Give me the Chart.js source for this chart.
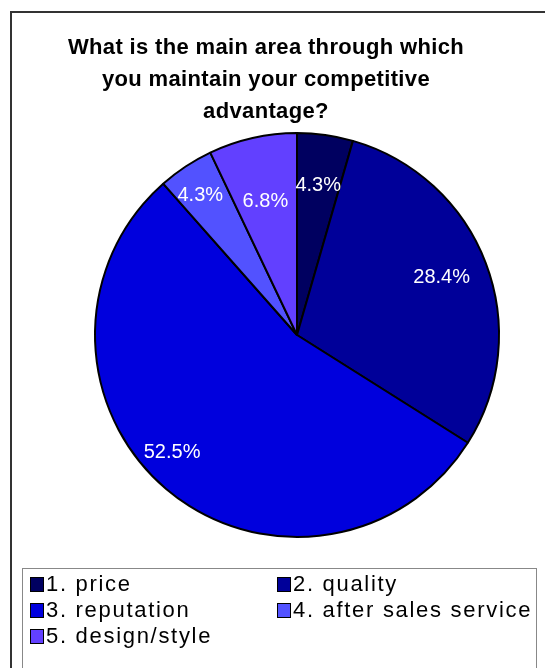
<!DOCTYPE html>
<html>
<head>
<meta charset="utf-8">
<script src="https://cdn.jsdelivr.net/npm/chart.js@4/dist/chart.umd.min.js"></script>
<style>
  html, body { margin: 0; padding: 0; background: #fff; }
  body { width: 545px; height: 668px; position: relative; overflow: hidden;
         font-family: "Liberation Sans", Arial, sans-serif; }
  #frame { position: absolute; left: 10px; top: 11px; width: 560px; height: 700px;
           border: 2px solid #333; box-sizing: border-box; }
  #title { position: absolute; left: 16px; width: 500px; top: 31px; text-align: center;
           font-weight: bold; font-size: 22px; line-height: 32px; color: #000;
           letter-spacing: 0.35px; }
  #chart { position: absolute; left: 0; top: 0; }
  #legend { position: absolute; left: 22px; top: 568px; width: 515px; height: 120px;
            border: 1px solid #888; box-sizing: border-box; }
  .item { position: absolute; font-size: 22px; line-height: 24px; color: #000;
          white-space: nowrap; letter-spacing: 1.7px; }
  .item i { position: absolute; left: -16px; top: 5px; width: 12px; height: 13px;
            border: 1px solid #000; }
</style>
</head>
<body>
<div id="frame"></div>
<canvas id="chart" width="545" height="668"></canvas>
<div id="title">What is the main area through which<br>you maintain your competitive<br>advantage?</div>
<div id="legend"></div>
<script>
// Survey answers, share of respondents (%)
const categories = ['1. price', '2. quality', '3. reputation', '4. after sales service', '5. design/style'];
const shares = [4.3, 28.4, 52.5, 4.3, 6.8];
const sliceColors = ['#000060', '#000099', '#0000dd', '#5252ff', '#6240ff'];

// Where each percentage label sits: fraction of the radius, and a nudge in degrees
const labelRadius = [0.75, 0.77, 0.85, 0.84, 0.68];
const labelNudge = [0, -0.7, 6.3, -1.3, -0.6];

const sliceLabels = {
  id: 'sliceLabels',
  afterDatasetsDraw(chart) {
    const ctx = chart.ctx;
    const meta = chart.getDatasetMeta(0);
    ctx.save();
    ctx.fillStyle = '#fff';
    ctx.font = '20px "Liberation Sans", Arial, sans-serif';
    ctx.textAlign = 'center';
    ctx.textBaseline = 'middle';
    meta.data.forEach((arc, i) => {
      const p = arc.getProps(['x', 'y', 'startAngle', 'endAngle', 'outerRadius'], true);
      const mid = (p.startAngle + p.endAngle) / 2 + labelNudge[i] * Math.PI / 180;
      const r = p.outerRadius * labelRadius[i];
      ctx.fillText(shares[i].toFixed(1) + '%', p.x + r * Math.cos(mid), p.y + r * Math.sin(mid));
    });
    ctx.restore();
  }
};

new Chart(document.getElementById('chart'), {
  type: 'pie',
  data: {
    labels: categories,
    datasets: [{
      data: shares,
      backgroundColor: sliceColors,
      borderColor: '#000',
      borderWidth: 2
    }]
  },
  options: {
    responsive: false,
    animation: false,
    layout: { padding: { left: 94, top: 132, right: 45, bottom: 130 } },
    plugins: {
      legend: { display: false },
      tooltip: { enabled: false }
    }
  },
  plugins: [sliceLabels]
});

// Two-column legend under the pie
const legend = document.getElementById('legend');
const cols = [23, 270];
categories.forEach((name, i) => {
  const el = document.createElement('div');
  el.className = 'item';
  el.style.left = cols[i % 2] + 'px';
  el.style.top = (3 + Math.floor(i / 2) * 26) + 'px';
  el.innerHTML = '<i style="background:' + sliceColors[i] + '"></i>' + name;
  legend.appendChild(el);
});
</script>
</body>
</html>
